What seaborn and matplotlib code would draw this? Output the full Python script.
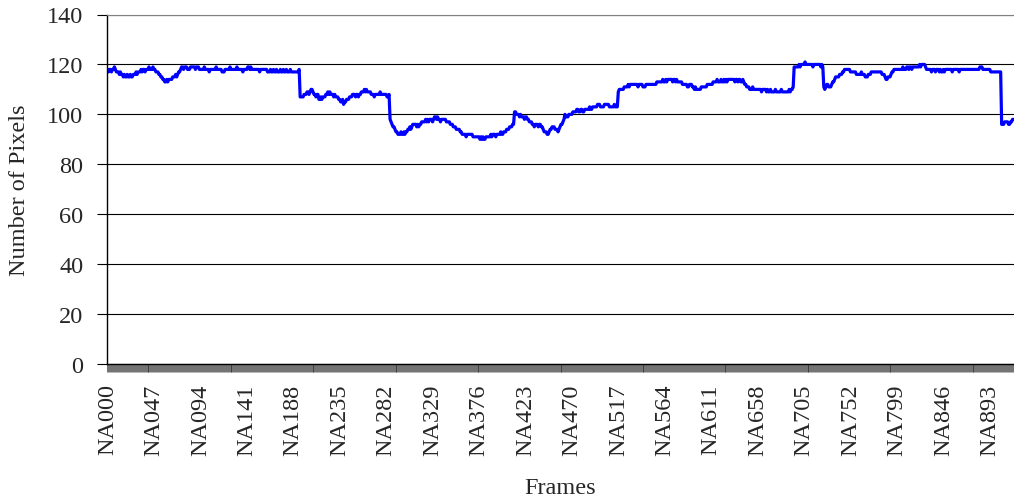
import numpy as np
import pandas as pd
import seaborn as sns
import matplotlib.pyplot as plt
from matplotlib.ticker import FixedLocator

# Number of pixels per frame
pixel_counts = [
    118,117,118,118,117,118,118,119,118,117,117,117,116,117,116,116,115,116,115,115,  # 000
    116,115,115,116,115,115,116,116,116,117,116,117,117,117,118,117,118,118,117,118,  # 020
    118,118,119,118,118,118,119,118,118,117,117,117,116,116,115,115,114,114,113,113,  # 040
    114,113,114,114,114,114,115,115,115,116,115,116,117,117,118,119,119,118,119,119,  # 060
    119,118,118,118,119,119,119,119,119,118,119,119,119,118,118,118,118,118,119,118,  # 080
    118,118,118,117,118,118,118,118,118,118,119,118,118,118,118,118,117,117,117,118,  # 100
    118,118,118,118,119,118,118,118,118,118,118,119,118,118,118,118,118,117,118,118,  # 120
    118,118,119,119,118,119,118,118,118,118,118,118,118,118,117,118,118,118,118,118,  # 140
    118,118,117,117,117,118,117,117,118,117,117,118,117,117,117,118,117,117,118,117,  # 160
    117,118,117,117,117,118,117,117,117,117,117,117,117,117,118,107,107,107,107,108,  # 180
    108,108,109,109,108,109,110,110,109,108,108,107,108,108,106,106,107,106,107,107,  # 200
    107,108,108,109,108,109,108,108,108,107,108,107,107,107,106,106,105,105,106,104,  # 220
    105,105,106,106,106,107,107,107,108,108,108,107,108,108,107,108,108,109,109,109,  # 240
    110,109,110,109,109,109,109,108,108,108,107,108,108,108,108,108,109,108,108,108,  # 260
    108,108,108,107,107,108,98,97,96,95,95,94,93,93,92,92,92,93,92,92,  # 280
    93,92,93,93,94,94,95,94,95,96,96,96,96,95,96,95,96,96,97,97,  # 300
    97,97,98,97,98,97,98,98,98,97,98,99,99,98,99,98,98,97,98,98,  # 320
    98,98,98,97,97,97,97,96,96,96,95,95,95,94,94,94,94,93,93,92,  # 340
    92,92,92,91,92,92,92,92,92,92,91,91,91,91,91,91,91,90,91,90,  # 360
    91,90,90,91,91,91,91,91,92,91,92,92,92,91,92,92,92,92,93,92,  # 380
    92,93,93,93,94,94,94,95,95,95,96,96,101,101,100,100,100,99,100,99,  # 400
    99,99,98,99,99,98,98,97,97,97,96,96,95,96,96,96,95,96,96,95,  # 420
    95,94,93,93,93,92,92,93,94,94,95,95,95,94,94,94,93,94,95,96,  # 440
    96,97,98,100,99,99,99,100,100,100,100,101,101,101,101,102,102,101,101,102,  # 460
    102,101,101,102,102,102,102,102,103,102,102,103,103,103,103,103,104,104,104,103,  # 480
    103,103,103,104,104,104,104,104,103,103,103,103,103,104,103,103,103,109,110,110,  # 500
    110,110,110,111,111,111,111,112,111,112,112,112,112,112,112,112,112,111,112,112,  # 520
    112,112,111,111,111,112,112,112,112,112,112,112,112,112,112,112,113,113,113,113,  # 540
    113,113,114,113,113,114,113,114,114,114,114,114,113,114,114,113,114,113,113,113,  # 560
    113,113,112,112,112,112,112,111,111,112,112,112,111,111,110,111,110,110,110,110,  # 580
    110,111,111,111,111,111,111,112,112,112,112,112,112,113,113,113,113,114,113,113,  # 600
    113,114,113,113,114,113,114,113,114,114,114,114,114,114,114,113,114,114,113,114,  # 620
    114,113,113,114,113,112,112,111,111,111,110,110,110,111,110,110,110,110,110,110,  # 640
    110,110,109,110,110,110,110,109,110,109,109,110,109,109,109,109,110,109,109,109,  # 660
    109,109,110,109,109,109,109,109,109,109,110,109,110,110,111,119,119,119,119,119,  # 680
    120,119,120,120,120,120,121,120,120,120,120,120,120,120,119,120,120,120,120,120,  # 700
    120,120,119,120,119,111,110,111,112,112,111,111,111,112,113,113,114,115,115,115,  # 720
    115,116,116,116,117,117,118,118,118,118,118,118,117,117,117,117,117,117,116,116,  # 740
    116,116,116,117,116,116,116,115,115,115,116,116,116,117,117,117,117,117,117,117,  # 760
    117,117,117,117,116,116,116,115,114,114,115,115,115,116,117,117,118,118,118,118,  # 780
    118,118,118,118,118,119,118,118,118,119,119,118,119,119,118,119,119,119,119,119,  # 800
    119,119,120,119,120,120,120,120,119,118,118,118,118,118,117,118,118,118,117,118,  # 820
    118,118,117,118,117,117,118,117,118,118,118,118,118,118,118,117,118,118,118,118,  # 840
    118,118,117,118,118,118,118,118,118,118,118,118,118,118,118,118,118,118,118,118,  # 860
    118,118,118,119,119,119,118,118,118,118,118,118,118,118,117,117,117,117,117,117,  # 880
    117,117,117,117,117,96,96,96,97,97,97,97,96,96,97,97,98,98,  # 900
]
frame_labels = [f"NA{i:03d}" for i in range(len(pixel_counts))]
label_step = 47  # every 47th frame gets a label
y_ticks = [0, 20, 40, 60, 80, 100, 120, 140]

df = pd.DataFrame({'pos': np.arange(len(pixel_counts)), 'Frame': frame_labels, 'Pixels': pixel_counts})

sns.set_style('white')
plt.rcParams['font.family'] = ['Liberation Serif', 'DejaVu Serif']

fig = plt.figure(figsize=(10.14, 5.02), dpi=100)
ax = fig.add_axes([107 / 1014, 1 - 365 / 502, 1 - 107 / 1014, (365 - 15.5) / 502])

sns.lineplot(data=df, x='pos', y='Pixels', color='#0000FF', linewidth=2.3, ax=ax)

# Excel style category axis
n = len(pixel_counts)
ax.set_xlim(-0.5, n - 0.5)
ax.set_ylim(0, 140)
ax.set_yticks(y_ticks)
ax.yaxis.grid(True, color='black', linewidth=0.8)
ax.set_axisbelow(True)

major = list(range(0, n, label_step))
ax.set_xticks(major)
ax.set_xticklabels([frame_labels[i] for i in major], rotation=90, fontsize=17.5)
ax.xaxis.set_minor_locator(FixedLocator(np.arange(-0.5, n, 1.0)))
ax.tick_params(axis='x', which='major', length=0, pad=14)
ax.tick_params(axis='x', which='minor', length=6, width=0.45, color='#222222', direction='out', bottom=True)
ax.tick_params(axis='y', which='major', length=7, width=0.8, color='black', direction='out',
               left=True, labelsize=17.5, pad=10)

for side in ['left', 'bottom']:
    ax.spines[side].set_color('black')
    ax.spines[side].set_linewidth(1.0)
ax.spines['top'].set_color('#808080')
ax.spines['right'].set_visible(False)

ax.set_xlabel('Frames', fontsize=17.5, labelpad=16)
ax.set_ylabel('Number of Pixels', fontsize=17.5, labelpad=12)

fig.savefig('out.png', dpi=100)
